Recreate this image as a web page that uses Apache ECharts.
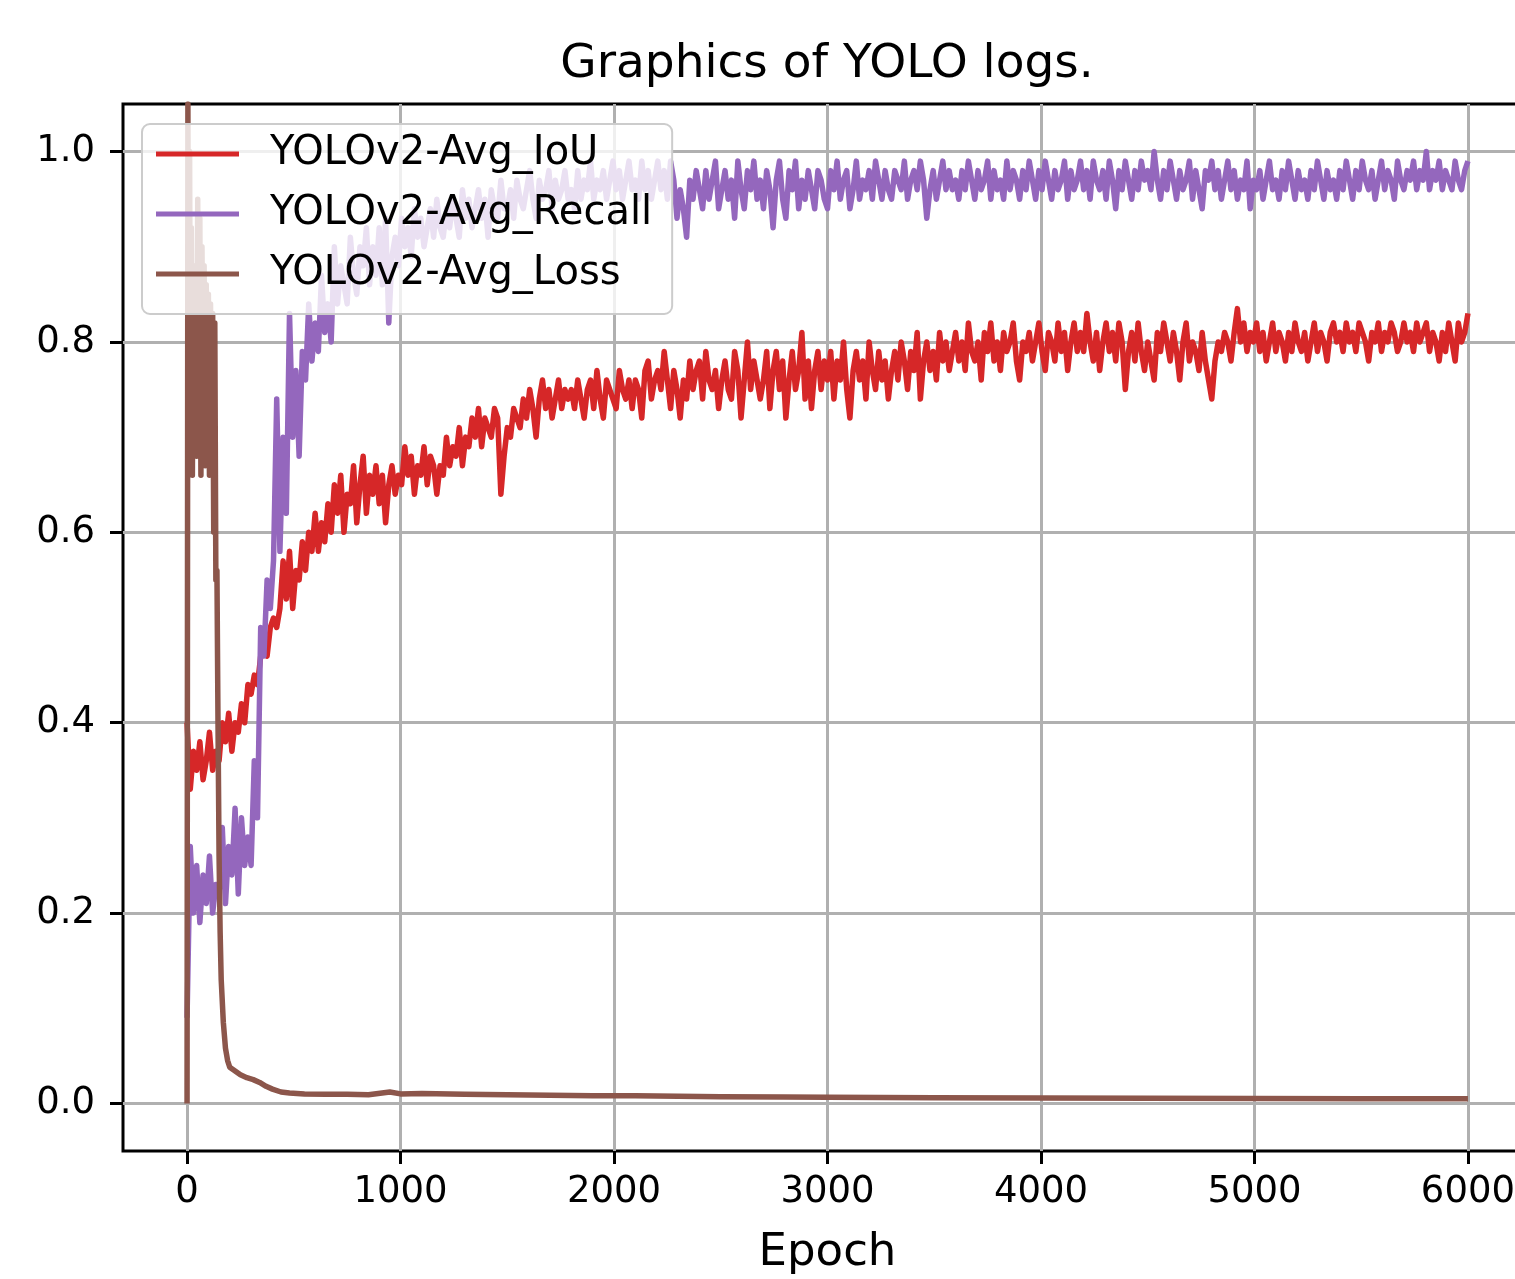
<!DOCTYPE html>
<html>
<head>
<meta charset="utf-8">
<title>Graphics of YOLO logs.</title>
<script src="https://cdn.jsdelivr.net/npm/echarts@6/dist/echarts.min.js"></script>
<style>
  html, body { margin: 0; padding: 0; background: #fff; }
  #chart { width: 1515px; height: 1279px; }
</style>
</head>
<body>
<div id="chart"></div>
<script>
// IoU / Recall logged every 15 epochs (0 .. 6000), one row = 300 epochs
var STEP = 15;

var iouValues = [
  .40,.33,.37,.35,.38,.34,.36,.39,.35,.37,.36,.40,.38,.41,.37,.40,.39,.42,.40,.44,
  .43,.45,.44,.47,.48,.47,.50,.51,.50,.52,.57,.53,.58,.52,.56,.55,.59,.56,.60,.58,
  .62,.58,.61,.59,.63,.60,.65,.62,.66,.60,.64,.63,.67,.61,.65,.68,.62,.66,.64,.67,
  .63,.66,.61,.65,.67,.64,.66,.65,.69,.66,.68,.64,.67,.66,.69,.65,.68,.67,.64,.67,
  .66,.70,.67,.69,.68,.71,.67,.70,.69,.72,.70,.73,.69,.72,.71,.70,.73,.72,.64,.68,
  .71,.70,.73,.72,.71,.74,.72,.75,.73,.70,.74,.76,.73,.75,.72,.74,.76,.73,.75,.74,
  .75,.73,.76,.74,.72,.75,.76,.73,.77,.74,.72,.76,.75,.74,.73,.77,.75,.74,.76,.73,
  .76,.75,.72,.77,.78,.74,.76,.77,.75,.79,.76,.73,.77,.75,.72,.76,.74,.78,.75,.77,
  .78,.74,.79,.76,.75,.77,.73,.76,.78,.75,.74,.79,.77,.72,.76,.80,.75,.78,.76,.74,
  .76,.79,.73,.77,.79,.75,.78,.72,.76,.79,.75,.77,.81,.74,.78,.73,.77,.79,.75,.78,
  .76,.79,.74,.78,.76,.80,.75,.72,.77,.79,.76,.78,.74,.80,.77,.75,.79,.76,.78,.74,
  .77,.79,.76,.80,.78,.75,.79,.77,.81,.74,.78,.80,.77,.79,.76,.81,.78,.80,.77,.79,
  .81,.78,.80,.77,.82,.79,.78,.80,.76,.81,.79,.82,.78,.80,.77,.81,.79,.80,.82,.78,
  .76,.80,.79,.81,.78,.80,.82,.79,.77,.81,.80,.78,.82,.79,.81,.77,.80,.82,.79,.81,
  .79,.83,.80,.78,.81,.77,.80,.82,.79,.81,.78,.82,.80,.75,.79,.81,.78,.82,.79,.77,
  .80,.78,.76,.81,.79,.82,.80,.78,.81,.79,.76,.80,.82,.78,.80,.79,.77,.81,.78,.76,
  .74,.78,.80,.79,.81,.80,.78,.81,.835,.80,.82,.79,.81,.80,.82,.79,.81,.78,.80,.82,
  .79,.81,.80,.78,.81,.79,.82,.80,.79,.81,.78,.80,.82,.79,.81,.80,.78,.81,.82,.80,
  .81,.79,.82,.80,.81,.79,.82,.81,.80,.78,.81,.80,.82,.79,.81,.80,.82,.81,.79,.80,
  .82,.80,.81,.79,.82,.80,.81,.82,.79,.81,.80,.78,.81,.79,.82,.80,.78,.82,.80,.81,
  .83
];

var recallValues = [
  .09,.27,.20,.25,.19,.24,.21,.26,.20,.23,.22,.29,.21,.27,.24,.31,.22,.30,.25,.28,
  .25,.36,.30,.50,.47,.55,.52,.57,.74,.58,.70,.62,.83,.70,.77,.68,.79,.76,.84,.78,
  .82,.79,.87,.81,.84,.80,.90,.84,.88,.86,.84,.91,.87,.85,.90,.88,.92,.86,.90,.87,
  .92,.86,.93,.82,.89,.91,.88,.93,.90,.92,.89,.94,.91,.93,.90,.92,.94,.91,.95,.92,
  .91,.94,.92,.95,.93,.91,.96,.93,.95,.92,.94,.96,.93,.95,.91,.96,.94,.93,.97,.94,
  .94,.96,.93,.97,.95,.94,.96,.98,.95,.93,.97,.95,.96,.98,.94,.97,.95,.96,.98,.95,
  .96,.94,.98,.95,.97,.96,.99,.95,.97,.96,.98,.95,.97,.99,.96,.98,.95,.97,.99,.96,
  .97,.95,.99,.96,.98,.95,.97,.99,.96,.98,.95,.99,.97,.93,.96,.94,.91,.97,.95,.98,
  .96,.94,.98,.95,.97,.99,.94,.96,.98,.95,.97,.93,.99,.96,.94,.98,.96,.99,.95,.97,
  .94,.98,.96,.92,.97,.99,.95,.93,.98,.96,.99,.94,.97,.95,.98,.96,.94,.98,.97,.95,
  .94,.98,.96,.99,.95,.97,.98,.94,.96,.99,.95,.97,.96,.98,.95,.99,.97,.95,.98,.96,
  .95,.98,.97,.96,.99,.95,.97,.98,.96,.99,.97,.93,.96,.98,.95,.97,.99,.96,.98,.96,
  .97,.95,.98,.96,.99,.97,.95,.98,.96,.97,.99,.95,.98,.96,.97,.95,.99,.96,.98,.97,
  .95,.98,.96,.99,.97,.95,.98,.96,.99,.97,.95,.98,.96,.97,.99,.95,.98,.96,.97,.99,
  .96,.98,.95,.99,.97,.96,.98,.95,.99,.97,.94,.98,.96,.99,.97,.95,.98,.96,.99,.97,
  .98,.96,1.0,.97,.95,.98,.96,.99,.97,.95,.98,.96,.97,.99,.95,.98,.96,.94,.98,.97,
  .99,.96,.98,.95,.97,.99,.96,.98,.95,.97,.96,.99,.94,.97,.96,.98,.95,.97,.99,.96,
  .97,.95,.98,.96,.99,.97,.95,.98,.96,.97,.95,.98,.96,.99,.97,.95,.98,.96,.97,.95,
  .98,.96,.99,.97,.95,.98,.96,.99,.97,.96,.98,.95,.97,.99,.96,.98,.97,.95,.99,.97,
  .96,.98,.97,.99,.96,.98,.97,1.0,.96,.98,.97,.99,.96,.98,.97,.96,.99,.97,.96,.98,
  .99
];

// loss is logged more densely at the start: [epoch, value]
var lossPoints = [
  [0,0.0],[4,1.05],[8,0.68],[12,1.0],[16,0.70],[20,0.92],[25,0.66],[30,0.88],[35,0.72],[40,0.86],
  [45,0.68],[50,0.95],[55,0.70],[60,0.93],[65,0.66],[70,0.90],[75,0.74],[80,0.88],[85,0.67],[90,0.86],
  [95,0.70],[100,0.85],[105,0.66],[110,0.84],[115,0.68],[120,0.83],[125,0.60],[130,0.82],[135,0.55],[140,0.56],
  [145,0.40],[150,0.26],[155,0.18],[160,0.13],[170,0.085],[180,0.058],[190,0.045],[200,0.038],[225,0.034],[250,0.030],
  [280,0.027],[310,0.025],[340,0.022],[370,0.018],[400,0.015],[440,0.012],[480,0.011],[550,0.010],[650,0.0095],[750,0.0095],
  [850,0.009],[950,0.012],[1000,0.010],[1100,0.0105],[1300,0.0095],[1500,0.009],[1700,0.0085],[1900,0.008],[2100,0.008],[2300,0.0075],
  [2500,0.007],[2800,0.0068],[3000,0.0066],[3500,0.006],[4000,0.0058],[4500,0.0055],[5000,0.0052],[5500,0.005],[5800,0.0048],[6000,0.005]
];

var xTicks = [0, 1000, 2000, 3000, 4000, 5000, 6000];
var yTicks = [0, 0.2, 0.4, 0.6, 0.8, 1.0];

var seriesNames = ['YOLOv2-Avg_IoU', 'YOLOv2-Avg_Recall', 'YOLOv2-Avg_Loss'];
var seriesColors = ['#d62728', '#9467bd', '#8c564b'];

function withEpochs(values) {
  var out = [];
  for (var i = 0; i < values.length; i++) out.push([i * STEP, values[i]]);
  return out;
}

var FONT = 'DejaVu Sans';
var chart = echarts.init(document.getElementById('chart'));

function lineSeries(idx, data) {
  return {
    name: seriesNames[idx],
    type: 'line',
    data: data,
    showSymbol: false,
    symbol: 'none',
    clip: true,
    lineStyle: { color: seriesColors[idx], width: 5.5, join: 'round' },
    itemStyle: { color: seriesColors[idx] },
    emphasis: { disabled: true }
  };
}

chart.setOption({
  animation: false,
  backgroundColor: '#ffffff',
  graphic: [{
    type: 'text',
    x: 827,
    y: 65,
    style: {
      text: 'Graphics of YOLO logs.',
      font: '47px "DejaVu Sans"',
      fill: '#000',
      align: 'center',
      verticalAlign: 'middle'
    }
  }],
  // the axes box runs past the right edge of the picture (x = 1532)
  grid: {
    left: 123,
    top: 104,
    width: 1409,
    bottom: 128,
    outerBoundsMode: 'none',
    containLabel: false,
    show: true,
    borderColor: '#000',
    borderWidth: 3,
    backgroundColor: 'transparent'
  },
  legend: {
    orient: 'vertical',
    left: 142,
    top: 124,
    icon: 'rect',
    itemWidth: 83,
    itemHeight: 5,
    itemGap: 16,
    padding: [8, 20, 18, 14],
    backgroundColor: 'rgba(255,255,255,0.8)',
    borderColor: '#cccccc',
    borderWidth: 2,
    borderRadius: 8,
    data: seriesNames,
    selectedMode: false,
    textStyle: {
      fontFamily: FONT,
      fontSize: 40,
      color: '#000',
      lineHeight: 44,
      padding: [0, 0, 0, 26]
    }
  },
  xAxis: {
    type: 'value',
    min: -300,
    max: 6300,
    name: 'Epoch',
    nameLocation: 'middle',
    nameGap: 102,
    nameTextStyle: { fontFamily: FONT, fontSize: 45, color: '#000', verticalAlign: 'middle' },
    axisLine: { show: false, onZero: false },
    axisTick: { show: true, customValues: xTicks, length: 13, lineStyle: { color: '#000', width: 3 } },
    axisLabel: {
      customValues: xTicks,
      margin: 23,
      fontFamily: FONT,
      fontSize: 37,
      color: '#000',
      formatter: function (v) { return String(v); }
    },
    splitLine: { show: true, lineStyle: { color: '#b0b0b0', width: 3 } }
  },
  yAxis: {
    type: 'value',
    min: -0.05,
    max: 1.05,
    axisLine: { show: false, onZero: false },
    axisTick: { show: true, customValues: yTicks, length: 13, lineStyle: { color: '#000', width: 3 } },
    axisLabel: {
      customValues: yTicks,
      margin: 28,
      fontFamily: FONT,
      fontSize: 37,
      color: '#000',
      formatter: function (v) { return v.toFixed(1); }
    },
    splitLine: { show: true, lineStyle: { color: '#b0b0b0', width: 3 } }
  },
  series: [
    lineSeries(0, withEpochs(iouValues)),
    lineSeries(1, withEpochs(recallValues)),
    lineSeries(2, lossPoints)
  ]
});
</script>
</body>
</html>
